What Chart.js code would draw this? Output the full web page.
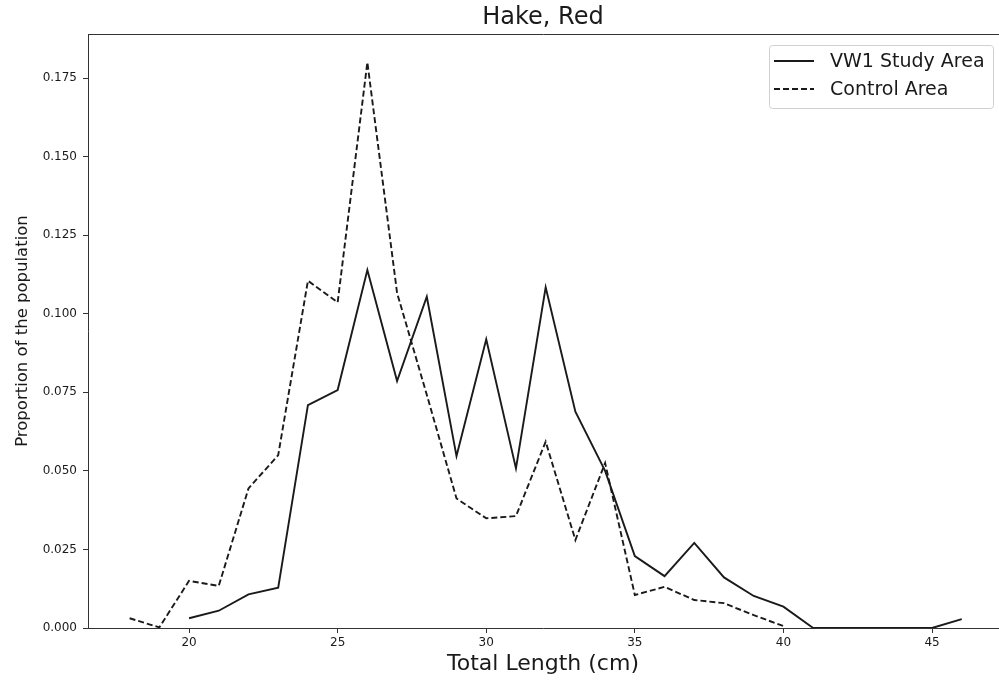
<!DOCTYPE html>
<html>
<head>
<meta charset="utf-8">
<title>Hake, Red</title>
<script src="https://cdn.jsdelivr.net/npm/chart.js@4/dist/chart.umd.min.js"></script>
<style>
  html,body{margin:0;padding:0;background:#fff;}
  canvas{display:block;}
</style>
</head>
<body>
<canvas id="chart" width="999" height="680"></canvas>
<script>
/* Hake, Red - length frequency by area */
const studyLengths = [20,21,22,23,24,25,26,27,28,29,30,31,32,33,34,35,36,37,38,39,40,41,42,43,44,45,46];
const studyValues  = [0.0031,0.0055,0.0107,0.0128,0.0709,0.0757,0.1139,0.0786,0.1054,0.0547,0.0919,0.0508,0.1084,0.0688,0.0500,0.0229,0.0165,0.0271,0.0161,0.0102,0.0068,0,0,0,0,0,0.0028];

const controlLengths = [18,19,20,21,22,23,24,25,26,27,28,29,30,31,32,33,34,35,36,37,38,39,40];
const controlValues  = [0.0031,0.0002,0.0150,0.0134,0.0444,0.0550,0.1105,0.1036,0.1800,0.1066,0.0742,0.0412,0.0349,0.0356,0.0593,0.0280,0.0525,0.0105,0.0131,0.0089,0.0079,0.0041,0.0006];

const xTicks = [20,25,30,35,40,45];
const yTicks = [0,0.025,0.05,0.075,0.1,0.125,0.15,0.175];

const FONT = "'DejaVu Sans', sans-serif";
const INK = '#1a1a1a';

function pairs(xs, ys){
  return xs.map((x,i)=>({x, y: ys[i]}));
}

// top spine + legend inside the axes (right spine falls off the canvas)
const framePlugin = {
  id: 'frame',
  afterDraw(chart){
    const {ctx, chartArea: a} = chart;
    ctx.save();
    ctx.strokeStyle = '#333';
    ctx.lineWidth = 1;
    ctx.beginPath();
    ctx.moveTo(a.left, a.top+0.5);
    ctx.lineTo(a.right+1, a.top+0.5);
    ctx.stroke();

    // legend
    const lx = 769, ly = 45, lw = 224, lh = 63;
    ctx.fillStyle = 'rgba(255,255,255,0.8)';
    ctx.strokeStyle = '#d0d0d0';
    ctx.beginPath();
    ctx.roundRect(lx+0.5, ly+0.5, lw, lh, 3);
    ctx.fill();
    ctx.stroke();

    chart.data.datasets.forEach((ds, i)=>{
      const y = 61 + i*28;
      ctx.strokeStyle = ds.borderColor;
      ctx.lineWidth = ds.borderWidth;
      ctx.setLineDash(ds.borderDash || []);
      ctx.beginPath();
      ctx.moveTo(774, y);
      ctx.lineTo(814, y);
      ctx.stroke();
      ctx.setLineDash([]);
      ctx.fillStyle = INK;
      ctx.font = "19px " + FONT;
      ctx.textBaseline = 'middle';
      ctx.fillText(ds.label, 830, y+1);
    });
    ctx.restore();
  }
};

const ctx = document.getElementById('chart');
new Chart(ctx, {
  type: 'line',
  data: {
    datasets: [
      {
        label: 'VW1 Study Area',
        data: pairs(studyLengths, studyValues),
        borderColor: INK,
        borderWidth: 1.9,
        pointRadius: 0,
        tension: 0,
        fill: false
      },
      {
        label: 'Control Area',
        data: pairs(controlLengths, controlValues),
        borderColor: INK,
        borderWidth: 1.9,
        borderDash: [6,3],
        pointRadius: 0,
        tension: 0,
        fill: false
      }
    ]
  },
  options: {
    responsive: false,
    animation: false,
    layout: { padding: { left: 0, right: 1, top: 0, bottom: 0 } },
    plugins: {
      legend: { display: false },
      tooltip: { enabled: false },
      title: {
        display: true,
        text: 'Hake, Red',
        fullSize: false,
        color: INK,
        font: { family: FONT, size: 24, weight: 'normal', lineHeight: 1.2 },
        padding: { top: 3.1, bottom: 2.1 }
      }
    },
    scales: {
      x: {
        type: 'linear',
        min: 16.6,
        max: 47.22,
        afterBuildTicks(scale){ scale.ticks = xTicks.map(v=>({value:v})); },
        afterFit(scale){ scale.height = 52; },
        grid: { drawOnChartArea: false, tickLength: 5, color: '#333', tickColor: '#333' },
        border: { display: true, color: '#333', width: 1 },
        ticks: {
          color: INK,
          padding: 3,
          maxRotation: 0,
          autoSkip: false,
          font: { family: FONT, size: 12 },
          callback: v => String(v)
        },
        title: {
          display: true,
          text: 'Total Length (cm)',
          color: INK,
          font: { family: FONT, size: 22 },
          padding: { top: 2.8, bottom: 2.8 }
        }
      },
      y: {
        type: 'linear',
        min: 0,
        max: 0.189,
        afterBuildTicks(scale){ scale.ticks = yTicks.map(v=>({value:v})); },
        afterFit(scale){ scale.width = 88; },
        grid: { drawOnChartArea: false, tickLength: 5, color: '#333', tickColor: '#333' },
        border: { display: true, color: '#333', width: 1 },
        ticks: {
          color: INK,
          padding: 6,
          autoSkip: false,
          font: { family: FONT, size: 12 },
          callback: v => Number(v).toFixed(3)
        },
        title: {
          display: true,
          text: 'Proportion of the population',
          color: INK,
          font: { family: FONT, size: 16.5 },
          padding: { top: 13, bottom: 13 }
        }
      }
    }
  },
  plugins: [framePlugin]
});
</script>
</body>
</html>
